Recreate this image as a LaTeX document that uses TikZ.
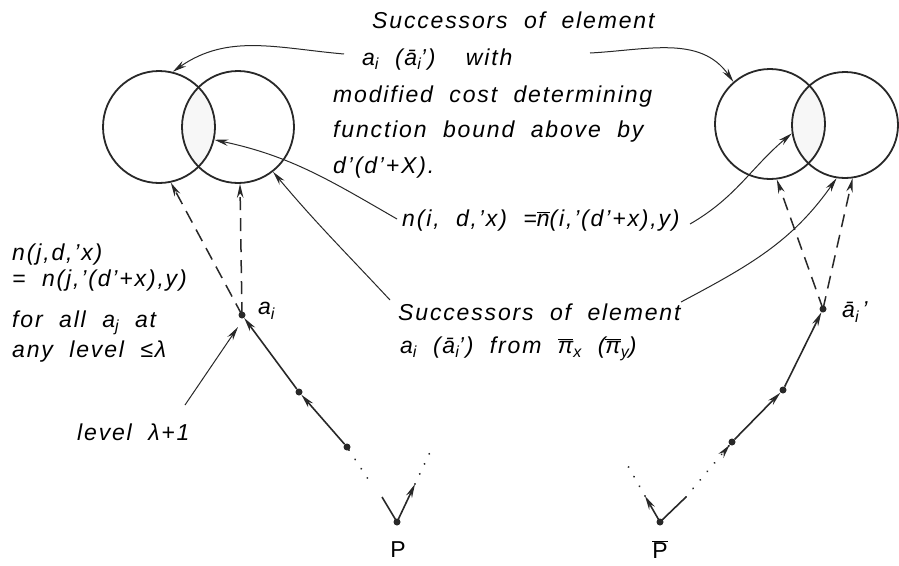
\documentclass[tikz,border=0pt]{standalone}
\usepackage{fontspec}
\setmainfont{Liberation Sans}[LetterSpace=8, WordSpace=2]
\usetikzlibrary{arrows.meta}
\newcommand{\sbs}[1]{\raisebox{-0.4ex}{\fontsize{16}{16}\selectfont #1}}
\newcommand{\ovl}[1]{$\overline{\hbox{#1}}$}
\begin{document}
\begin{tikzpicture}[x=1pt,y=-1pt,
  txt/.style={font=\fontsize{23}{27}\selectfont\itshape, inner sep=0, anchor=base west},
  lbl/.style={font=\fontsize{23}{27}\selectfont\upshape, inner sep=0},
  ring/.style={circle, draw=ink, line width=1.8pt, minimum size=#1, inner sep=0},
  dot/.style={circle, fill=ink, inner sep=0, minimum size=7pt},
  tip/.style={-{Stealth[length=14pt,width=6.5pt]}},
  chain/.style={line width=1.6pt, draw=ink},
  dotline/.style={line width=2pt, draw=ink, line cap=round, dash pattern=on 0.1pt off 11pt},
  dashline/.style={line width=1.5pt, draw=ink, dash pattern=on 13pt off 8pt},
  thin/.style={line width=1pt, draw=ink}]
\definecolor{ink}{RGB}{40,40,40}
\useasboundingbox (0,0) rectangle (899,565);
\fill[white] (0,0) rectangle (899,565);
% lens shading
\begin{scope}
  \clip (159,127) circle (56pt);
  \fill[gray!6] (238,127) circle (56pt);
\end{scope}
\begin{scope}
  \clip (770,124) circle (55pt);
  \fill[gray!6] (845,125) circle (53pt);
\end{scope}
% circles
\node[ring=112pt] (c1) at (159,127) {};
\node[ring=112pt] (c2) at (238,127) {};
\node[ring=110pt] (c3) at (770,124) {};
\node[ring=106pt] (c4) at (845,125) {};
% top text
\node[txt] (t1) at (372,28) {Successors of element};
\node[txt] (t2) at (362,65) {a\sbs{i} (\={a}\sbs{i}') \hspace{14pt}with};
\node[txt] (t3) at (333,102) {modified cost determining};
\node[txt] (t4) at (333,137) {function bound above by};
\node[txt] (t5) at (333,173) {d'(d'+X).};
\node[txt] (nf) at (402,226) {n(i, d,'x) =\ovl{n}(i,'(d'+x),y)};
% left text
\node[txt] (l1) at (12,260) {n(j,d,'x)};
\node[txt] (l2) at (12,286) {= n(j,'(d'+x),y)};
\node[txt] (l3) at (12,327) {for all a\sbs{j} at};
\node[txt] (l4) at (12,357) {any level ≤λ};
\node[txt] (lv) at (77,440) {level λ+1};
% lower text
\node[txt] (s1) at (398,320) {Successors of element};
\node[txt] (s2) at (400,353) {a\sbs{i} (\={a}\sbs{i}') from \ovl{π}\sbs{x} (\ovl{π}\sbs{y})};
% dots left
\node[dot] (ai) at (242,315) {};
\node[dot] (m1) at (299,392) {};
\node[dot] (m2) at (347,447) {};
\node[dot] (p) at (397,522) {};
\node[txt, anchor=west] at (258,311) {a\sbs{i}};
\node[lbl] at (398,550) {P};
% dots right
\node[dot] (ab) at (823,309) {};
\node[dot] (r1) at (783,390) {};
\node[dot] (r2) at (732,442) {};
\node[dot] (pb) at (660,522) {};
\node[txt, anchor=west] at (842,312) {\={a}\sbs{i}\,'};
\node[lbl] at (660,550) {\ovl{P}};
% free ends
\coordinate (ld1) at (372,485);
\coordinate (ld2) at (382,497);
\coordinate (la) at (415,484);
\coordinate (la2) at (433,446);
\coordinate (rd1) at (686,497);
\coordinate (ra) at (645,496);
\coordinate (ra2) at (628,466);
\coordinate (lvs) at (185,405);
\coordinate (lve) at (238,327);
\coordinate (tl) at (344,54);
\coordinate (tr) at (590,53);
\coordinate (nl) at (397,219);
\coordinate (nr) at (690,224);
\coordinate (sl) at (390,300);
\coordinate (sr) at (681,302);
% left chain
\draw[chain, tip] (m1) -- (ai);
\draw[chain, tip] (m2) -- (m1);
\draw[dotline] (m2) -- (ld1);
\draw[chain] (ld2) -- (p.center);
\draw[chain, tip] (p.center) -- (la);
\draw[dotline] (la) -- (la2);
% right chain
\draw[chain, tip] (r1) -- (ab);
\draw[chain, tip] (r2) -- (r1);
\draw[dotline] (rd1) -- (r2);
\draw[chain, tip] ([shift={(-8,10)}]r2.center) -- (r2);
\draw[chain] (pb.center) -- (rd1);
\draw[chain, tip] (pb.center) -- (ra);
\draw[dotline] (ra) -- (ra2);
% dashed
\draw[dashline, tip] (ai.center) -- (c1.-78);
\draw[dashline, tip] (ai.center) -- (c2.-88);
\draw[dashline, tip] (ab.center) -- (c3.-83);
\draw[dashline, tip] (ab.center) -- (c4.-82);
% level arrow
\draw[thin, tip] (lvs) -- (lve);
% thin connectors
\draw[thin, tip] (tl) to[out=175, in=35] (c1.76);
\draw[thin, tip] (tr) to[out=3, in=125] (c3.131);
\draw[thin, tip] (nl) to[out=150, in=-12] (c1.-13);
\draw[thin, tip] (nr) to[out=30, in=-140] (c4.189);
\draw[thin, tip] (sl) to[out=133, in=-50] (c2.-52);
\draw[thin, tip] (sr) to[out=28, in=-125] (c4.-99);
\end{tikzpicture}
\end{document}
